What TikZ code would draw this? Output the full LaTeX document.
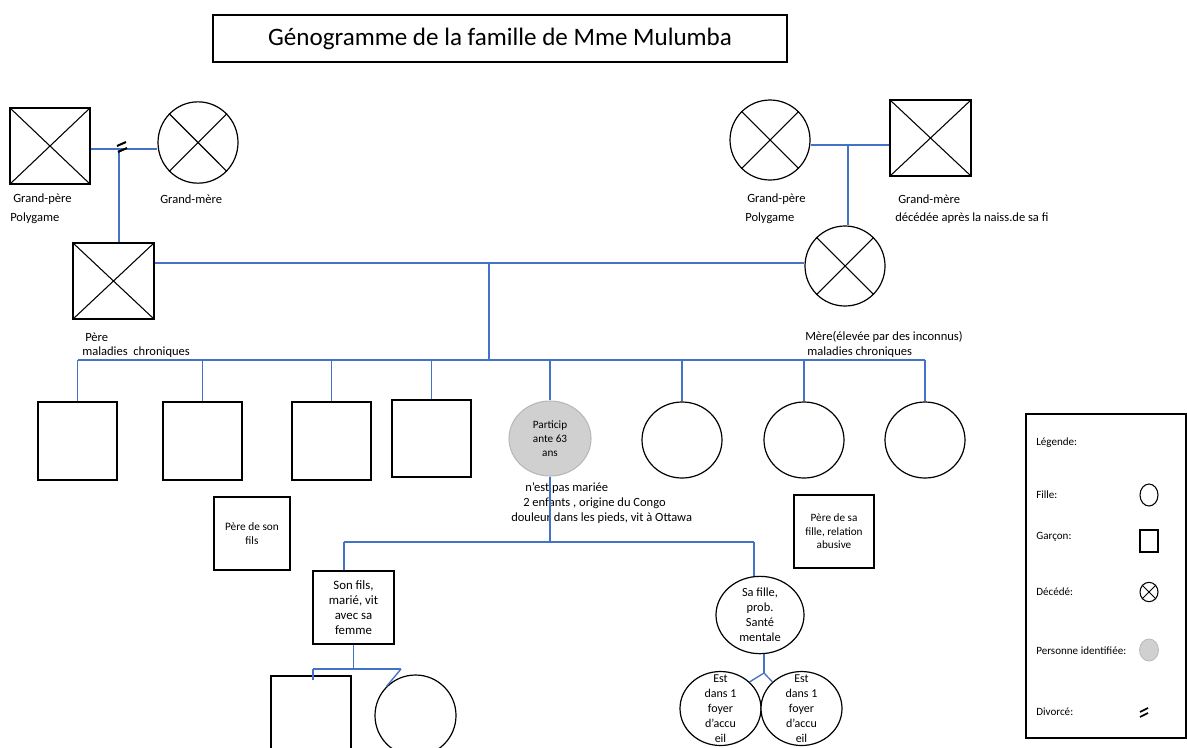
\documentclass[tikz,border=0pt]{standalone}
\usepackage{fontspec}
\setmainfont{Carlito}
\usetikzlibrary{shapes.geometric}
\definecolor{lineblue}{HTML}{4472C4}
\definecolor{idgrey}{HTML}{D0D0D0}
\definecolor{idborder}{HTML}{B8B8B8}
\newcommand{\setfs}[2]{\fontsize{#1}{#2}\selectfont}
\begin{document}
\begin{tikzpicture}[x=0.75pt,y=-0.75pt,
  person/.style={draw=black, line width=0.9pt, inner sep=0pt, fill=white},
  male/.style={person, rectangle},
  fem/.style={person, ellipse},
  lbl/.style={font=\setfs{9.4}{11.3}, inner sep=0pt, anchor=west},
  lgl/.style={font=\setfs{8.3}{10}, inner sep=0pt, anchor=west},
  rel/.style={draw=lineblue, line width=1pt},
  xcross/.style={line width=0.8pt},
  divmark/.pic={\draw[line width=1.5pt] (-5,-2) -- (4,-6) (-4,4) -- (5,0);},
  divmarksmall/.pic={\draw[line width=1.3pt] (-4,-1) -- (4,-5) (-4,4) -- (4,0);}
]
\useasboundingbox (0,0) rectangle (1187,747);
\begin{scope}
\clip (0,0) rectangle (1187,747);

% title
\node[draw, line width=0.8pt, inner sep=0pt, minimum width=430.5pt, minimum height=35.25pt,
      font=\setfs{18.8}{22}] (title) at (500,38.5) {Génogramme de la famille de Mme Mulumba};

% left grandparents
\node[male, minimum width=60pt, minimum height=57pt] (gpL) at (50,146) {};
\node[fem, minimum width=60pt, minimum height=61pt] (gmL) at (198,142.5) {};
\node[lbl] (gpLa) at (13,199) {Grand-père};
\node[lbl] (gpLb) at (10,218) {Polygame};
\node[lbl] (gmLa) at (160,199) {Grand-mère};

% father
\node[male, minimum width=60.75pt, minimum height=57pt] (father) at (113.5,281) {};
\node[lbl] (fa) at (85,337) {Père};
\node[lbl] (fb) at (82,352) {maladies\ \ chroniques};

% right grandparents
\node[fem, minimum width=60pt, minimum height=60pt] (gpR) at (770,140) {};
\node[male, minimum width=60.75pt, minimum height=57pt] (gmR) at (930.5,138) {};
\node[lbl] (gpRa) at (747,199) {Grand-père};
\node[lbl] (gpRb) at (745,218) {Polygame};
\node[lbl] (gmRa) at (898,199) {Grand-mère};
\node[lbl] (gmRb) at (895,218) {décédée après la naiss.de sa fi};

% mother
\node[fem, minimum width=60pt, minimum height=60pt] (mother) at (845,266) {};
\node[lbl] (ma) at (805,337) {Mère(élevée par des inconnus)};
\node[lbl] (mb) at (807,352) {maladies chroniques};

% crosses for deceased
\foreach \n in {gpL,father,gmR}
  \draw[xcross] (\n.north west) -- (\n.south east) (\n.north east) -- (\n.south west);
\foreach \n in {gmL,gpR,mother}
  \draw[xcross] (\n.45) -- (\n.225) (\n.135) -- (\n.315);

% siblings
\node[male, minimum width=59.25pt, minimum height=58.5pt] (s1) at (77.5,441) {};
\node[male, minimum width=59.25pt, minimum height=58.5pt] (s2) at (202.5,441) {};
\node[male, minimum width=59.25pt, minimum height=58.5pt] (s3) at (331.5,441) {};
\node[male, minimum width=59.25pt, minimum height=57.75pt] (s4) at (431.5,438.5) {};
\node[ellipse, draw=idborder, fill=idgrey, line width=0.8pt, inner sep=0pt,
      minimum width=61.5pt, minimum height=56.25pt, font=\setfs{8.4}{10.5}, align=center]
      (part) at (550,438.5) {Particip\\ante 63\\ans};
\node[fem, minimum width=60pt, minimum height=57pt] (c6) at (682,440) {};
\node[fem, minimum width=60pt, minimum height=57pt] (c7) at (804,440) {};
\node[fem, minimum width=60pt, minimum height=57pt] (c8) at (925,440) {};

\node[inner sep=0pt, anchor=west, align=left, font=\setfs{9.4}{11.5}] (info) at (511,503)
  {\hspace{10.5pt}n’est pas mariée\\\hspace{9pt}2 enfants , origine du Congo\\douleur dans les pieds, vit à Ottawa};

% partners
\node[male, minimum width=57pt, minimum height=54.75pt, font=\setfs{8.5}{10.1}, align=center]
      (pfils) at (252,533.5) {Père de son\\fils};
\node[male, minimum width=60pt, minimum height=54.75pt, font=\setfs{8.4}{10.1}, align=center]
      (pfille) at (834,531.5) {Père de sa\\fille, relation\\abusive};

% children of participant
\node[male, minimum width=60.75pt, minimum height=54.75pt, font=\setfs{9.6}{11.25}, align=center]
      (son) at (353.5,607.5) {Son fils,\\marié, vit\\avec sa\\femme};
\node[fem, minimum width=66pt, minimum height=58pt,
      label={[font=\setfs{9.3}{11.25}, align=center]center:{Sa fille,\\prob.\\Santé\\mentale}}]
      (dau) at (760,615) {};

% grandchildren
\node[male, minimum width=60pt, minimum height=67.5pt] (gcs1) at (311,721) {};
\node[fem, minimum width=60.75pt, minimum height=60.75pt] (gcs2) at (415.5,715.5) {};
\node[fem, minimum width=60.75pt, minimum height=55.5pt,
      label={[font=\setfs{9}{11.25}, align=center]center:{Est\\dans 1\\foyer\\d’accu\\eil}}]
      (gd1) at (720.5,708.5) {};
\node[fem, minimum width=60.75pt, minimum height=55.5pt,
      label={[font=\setfs{9}{11.25}, align=center]center:{Est\\dans 1\\foyer\\d’accu\\eil}}]
      (gd2) at (801.5,708.5) {};

% relationship lines
\coordinate (cL) at (119,149);
\draw[rel] (gpL.east |- cL) -- (gmL.west |- cL);
\draw[rel] (cL) -- (cL |- father.north);
\pic at (122,148) {divmark};
\coordinate (cR) at (848,145);
\draw[rel] (gpR.east |- cR) -- (gmR.west |- cR);
\draw[rel] (cR) -- (cR |- mother.north);
\coordinate (pm) at (489,263);
\draw[rel] (father.east |- pm) -- (mother.west |- pm);
\coordinate (sib) at (489,360);
\draw[rel] (pm) -- (sib);
\draw[rel] (s1.north |- sib) -- (c8.north |- sib);
\foreach \n in {s1,s2,s3,s4,part,c6,c7,c8}
  \draw[rel] (\n.north |- sib) -- (\n.north);

\coordinate (kidL) at (344,542);
\coordinate (kidR) at (754,542);
\draw[rel] (part.south) -- (part.south |- kidL);
\draw[rel] (kidL) -- (kidR);
\draw[rel] (kidL) -- (kidL |- son.north);
\draw[rel] (kidR) -- (kidR |- dau.north);

\coordinate (sjL) at (313,669);
\coordinate (sjR) at (401,669);
\draw[rel] (son.south) -- (son.south |- sjL);
\draw[rel] (sjL) -- (sjR);
\draw[rel] (sjL) -- (sjL |- gcs1.north) -- ++(0,5);
\draw[rel] (sjR) -- (gcs2.north west);

\coordinate (dj) at (764,673);
\draw[rel] (dj |- dau.south) -- (dj);
\draw[rel] (dj) -- (gd1.north east);
\draw[rel] (dj) -- (gd2.north west);

% legend
\node[draw, line width=0.9pt, minimum width=120pt, minimum height=243pt, inner sep=0pt] (legend) at (1106,576) {};
\node[lgl] (lgt) at (1036,443) {Légende:};
\node[lgl] (lgfl) at (1036,495) {Fille:};
\node[lgl] (lggl) at (1036,537) {Garçon:};
\node[lgl] (lgdl) at (1036,592) {Décédé:};
\node[lgl] (lgpl) at (1036,651) {Personne identifiée:};
\node[lgl] (lgvl) at (1036,712) {Divorcé:};
\node[ellipse, draw=black, line width=0.8pt, inner sep=0pt, minimum width=13.5pt, minimum height=16.5pt] (lgf) at (1149,495) {};
\node[rectangle, draw=black, line width=0.8pt, inner sep=0pt, minimum width=13.5pt, minimum height=16.5pt] (lgg) at (1149,541) {};
\node[ellipse, draw=black, line width=0.8pt, inner sep=0pt, minimum width=13.5pt, minimum height=14.5pt] (lgd) at (1149,592) {};
\draw[line width=0.7pt] (lgd.45) -- (lgd.225) (lgd.135) -- (lgd.315);
\node[ellipse, draw=idborder, fill=idgrey, line width=0.6pt, inner sep=0pt, minimum width=14.25pt, minimum height=16.5pt] (lgp) at (1149,650) {};
\pic at (1144,713) {divmarksmall};
\end{scope}
\end{tikzpicture}
\end{document}
